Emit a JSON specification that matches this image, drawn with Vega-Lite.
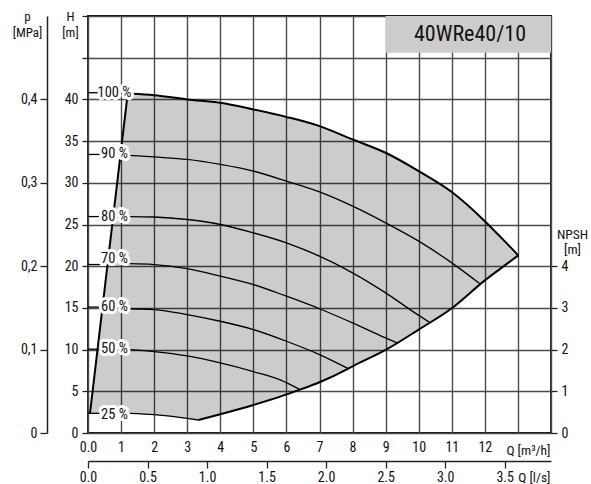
{
  "$schema": "https://vega.github.io/schema/vega-lite/v6.json",
  "width": 463,
  "height": 417,
  "autosize": "none",
  "padding": {"left": 88, "top": 16, "right": 40, "bottom": 51},
  "background": "white",
  "config": {
    "font": "Liberation Sans Narrow, Roboto Condensed, Noto Sans Condensed, Open Sans Condensed, DejaVu Sans Condensed, sans-serif",
    "view": {"stroke": "#111", "strokeWidth": 1.8},
    "axis": {
      "labelFont": "Liberation Sans Narrow, Roboto Condensed, Noto Sans Condensed, Open Sans Condensed, DejaVu Sans Condensed, sans-serif",
      "titleFont": "Liberation Sans Narrow, Roboto Condensed, Noto Sans Condensed, Open Sans Condensed, DejaVu Sans Condensed, sans-serif",
      "labelFontSize": 14,
      "titleFontSize": 13.5,
      "titleFontWeight": "normal",
      "labelColor": "#111",
      "titleColor": "#111",
      "tickColor": "#222",
      "tickWidth": 1.3,
      "domainColor": "#222",
      "domainWidth": 1.5,
      "labelFlush": false,
      "labelOverlap": false,
      "gridColor": "#4a4a4a",
      "gridWidth": 1.4,
      "gridOpacity": 1
    }
  },
  "datasets": {
    "area": [
      {"Q": 0.06, "H": 2.36, "H2": 2.36},
      {"Q": 1.2, "H": 40.7, "H2": 2.36},
      {"Q": 1.27, "H": 40.7, "H2": 2.36},
      {"Q": 2, "H": 40.5, "H2": 2.2},
      {"Q": 3, "H": 40.0, "H2": 1.76},
      {"Q": 3.34, "H": 39.85, "H2": 1.56},
      {"Q": 4, "H": 39.6, "H2": 2.25},
      {"Q": 5, "H": 38.8, "H2": 3.36},
      {"Q": 5.81, "H": 38.05, "H2": 4.36},
      {"Q": 6.41, "H": 37.4, "H2": 5.2},
      {"Q": 7, "H": 36.8, "H2": 6.08},
      {"Q": 7.87, "H": 35.4, "H2": 7.72},
      {"Q": 8, "H": 35.2, "H2": 8.0},
      {"Q": 9, "H": 33.6, "H2": 9.96},
      {"Q": 10, "H": 31.4, "H2": 12.4},
      {"Q": 11, "H": 28.9, "H2": 14.96},
      {"Q": 12, "H": 25.4, "H2": 18.3},
      {"Q": 12.5, "H": 23.4, "H2": 19.8},
      {"Q": 13.01, "H": 21.3, "H2": 21.3}
    ],
    "curves": [
      {"id": "edge", "Q": 0.06, "H": 2.36},
      {"id": "edge", "Q": 1.2, "H": 40.7},
      {"id": "s100", "Q": 1.3, "H": 40.7},
      {"id": "s100", "Q": 2, "H": 40.5},
      {"id": "s100", "Q": 3, "H": 40.0},
      {"id": "s100", "Q": 4, "H": 39.6},
      {"id": "s100", "Q": 5, "H": 38.8},
      {"id": "s100", "Q": 6, "H": 37.9},
      {"id": "s100", "Q": 7, "H": 36.8},
      {"id": "s100", "Q": 8, "H": 35.2},
      {"id": "s100", "Q": 9, "H": 33.6},
      {"id": "s100", "Q": 10, "H": 31.4},
      {"id": "s100", "Q": 11, "H": 28.9},
      {"id": "s100", "Q": 12, "H": 25.4},
      {"id": "s100", "Q": 12.5, "H": 23.4},
      {"id": "s100", "Q": 13.01, "H": 21.3},
      {"id": "bottom", "Q": 3.34, "H": 1.56},
      {"id": "bottom", "Q": 4, "H": 2.25},
      {"id": "bottom", "Q": 5, "H": 3.36},
      {"id": "bottom", "Q": 5.81, "H": 4.36},
      {"id": "bottom", "Q": 6.41, "H": 5.2},
      {"id": "bottom", "Q": 7, "H": 6.08},
      {"id": "bottom", "Q": 7.87, "H": 7.72},
      {"id": "bottom", "Q": 8, "H": 8.0},
      {"id": "bottom", "Q": 9, "H": 9.96},
      {"id": "bottom", "Q": 10, "H": 12.4},
      {"id": "bottom", "Q": 11, "H": 14.96},
      {"id": "bottom", "Q": 12, "H": 18.3},
      {"id": "bottom", "Q": 12.5, "H": 19.8},
      {"id": "bottom", "Q": 13.01, "H": 21.3},
      {"id": "t100", "Q": 0, "H": 40.8},
      {"id": "t100", "Q": 0.3, "H": 40.8},
      {"id": "t90", "Q": 0, "H": 33.4},
      {"id": "t90", "Q": 0.36, "H": 33.4},
      {"id": "s90", "Q": 1.25, "H": 33.3},
      {"id": "s90", "Q": 2, "H": 33.1},
      {"id": "s90", "Q": 3, "H": 32.8},
      {"id": "s90", "Q": 4, "H": 32.2},
      {"id": "s90", "Q": 5, "H": 31.4},
      {"id": "s90", "Q": 6, "H": 30.2},
      {"id": "s90", "Q": 7, "H": 28.9},
      {"id": "s90", "Q": 8, "H": 27.2},
      {"id": "s90", "Q": 9, "H": 25.2},
      {"id": "s90", "Q": 10, "H": 23.0},
      {"id": "s90", "Q": 11, "H": 20.4},
      {"id": "s90", "Q": 11.85, "H": 17.9},
      {"id": "t80", "Q": 0, "H": 25.95},
      {"id": "t80", "Q": 0.36, "H": 25.95},
      {"id": "s80", "Q": 1.25, "H": 25.95},
      {"id": "s80", "Q": 2, "H": 25.9},
      {"id": "s80", "Q": 3, "H": 25.6},
      {"id": "s80", "Q": 4, "H": 25.0},
      {"id": "s80", "Q": 5, "H": 24.0},
      {"id": "s80", "Q": 6, "H": 22.8},
      {"id": "s80", "Q": 7, "H": 21.2},
      {"id": "s80", "Q": 8, "H": 19.2},
      {"id": "s80", "Q": 9, "H": 16.8},
      {"id": "s80", "Q": 10, "H": 14.1},
      {"id": "s80", "Q": 10.34, "H": 13.25},
      {"id": "t70", "Q": 0, "H": 20.2},
      {"id": "t70", "Q": 0.36, "H": 20.2},
      {"id": "s70", "Q": 1.25, "H": 20.3},
      {"id": "s70", "Q": 2, "H": 20.2},
      {"id": "s70", "Q": 3, "H": 19.7},
      {"id": "s70", "Q": 4, "H": 18.8},
      {"id": "s70", "Q": 5, "H": 17.8},
      {"id": "s70", "Q": 6, "H": 16.4},
      {"id": "s70", "Q": 7, "H": 14.9},
      {"id": "s70", "Q": 8, "H": 13.2},
      {"id": "s70", "Q": 9, "H": 11.4},
      {"id": "s70", "Q": 9.38, "H": 10.75},
      {"id": "t60", "Q": 0, "H": 15.1},
      {"id": "t60", "Q": 0.36, "H": 15.1},
      {"id": "s60", "Q": 1.27, "H": 14.9},
      {"id": "s60", "Q": 2, "H": 14.8},
      {"id": "s60", "Q": 3, "H": 14.2},
      {"id": "s60", "Q": 4, "H": 13.4},
      {"id": "s60", "Q": 5, "H": 12.4},
      {"id": "s60", "Q": 6, "H": 11.0},
      {"id": "s60", "Q": 7, "H": 9.4},
      {"id": "s60", "Q": 7.87, "H": 7.72},
      {"id": "t50", "Q": 0, "H": 10.05},
      {"id": "t50", "Q": 0.36, "H": 10.05},
      {"id": "s50", "Q": 1.27, "H": 10.0},
      {"id": "s50", "Q": 2, "H": 9.76},
      {"id": "s50", "Q": 3, "H": 9.24},
      {"id": "s50", "Q": 4, "H": 8.4},
      {"id": "s50", "Q": 5, "H": 7.36},
      {"id": "s50", "Q": 5.81, "H": 6.36},
      {"id": "s50", "Q": 6.41, "H": 5.2},
      {"id": "t25", "Q": 0, "H": 2.36},
      {"id": "t25", "Q": 0.36, "H": 2.36},
      {"id": "s25", "Q": 1.27, "H": 2.36},
      {"id": "s25", "Q": 2, "H": 2.2},
      {"id": "s25", "Q": 3, "H": 1.76},
      {"id": "s25", "Q": 3.34, "H": 1.56}
    ],
    "labels": [
      {"t": "100 %", "Q": 0.8, "H": 40.75},
      {"t": "90 %", "Q": 0.8, "H": 33.4},
      {"t": "80 %", "Q": 0.8, "H": 25.95},
      {"t": "70 %", "Q": 0.8, "H": 20.85},
      {"t": "60 %", "Q": 0.8, "H": 15.15},
      {"t": "50 %", "Q": 0.8, "H": 10.1},
      {"t": "25 %", "Q": 0.8, "H": 2.1}
    ],
    "box": [{"Q": 9, "Q2": 14, "H": 45.6, "H2": 50}],
    "boxtitle": [{"Q": 11.55, "H": 47.8, "t": "40WRe40/10"}]
  },
  "layer": [
    {
      "encoding": {
        "x": {
          "field": "Q", "type": "quantitative",
          "scale": {"domain": [0, 14], "nice": false, "zero": false},
          "axis": {
            "orient": "bottom",
            "values": [0, 1, 2, 3, 4, 5, 6, 7, 8, 9, 10, 11, 12, 13, 14],
            "grid": true, "ticks": false, "tickSize": 0, "domain": false,
            "labelPadding": 7,
            "labelExpr": "datum.value > 12 ? '' : (datum.value == 0 ? '0.0' : datum.label)",
            "title": "Q [m³/h]", "titleX": 462, "titleY": 21,
            "titleAlign": "right", "titleBaseline": "alphabetic"
          }
        },
        "y": {
          "field": "H", "type": "quantitative",
          "scale": {"domain": [0, 50], "nice": false, "zero": false},
          "axis": {
            "orient": "left",
            "values": [0, 5, 10, 15, 20, 25, 30, 35, 40, 45, 50],
            "grid": true, "ticks": true, "tickSize": 6, "domain": false,
            "labelPadding": 4,
            "labelExpr": "datum.value > 40 ? '' : datum.label",
            "title": ["H", "[m]"], "titleAngle": 0, "titleX": -18, "titleY": 4,
            "titleFontSize": 13,
            "titleAlign": "center", "titleBaseline": "alphabetic", "titleLineHeight": 16
          }
        }
      },
      "layer": [
        {
          "data": {"name": "box"},
          "mark": {"type": "rect", "fill": "#cccccc", "stroke": null},
          "encoding": {"x2": {"field": "Q2"}, "y2": {"field": "H2"}}
        },
        {
          "data": {"name": "boxtitle"},
          "mark": {"type": "text", "fontSize": 22, "color": "#111", "align": "center", "baseline": "middle"},
          "encoding": {"text": {"field": "t"}}
        },
        {
          "data": {"name": "area"},
          "mark": {"type": "area", "fill": "#000", "fillOpacity": 0.2, "stroke": null, "interpolate": "linear"},
          "encoding": {"y2": {"field": "H2"}}
        },
        {
          "data": {"name": "curves"},
          "transform": [{"filter": "datum.id == 'edge' || datum.id == 'bottom' || datum.id == 's100'"}],
          "mark": {"type": "line", "color": "#000", "strokeWidth": 2, "interpolate": "monotone"},
          "encoding": {"detail": {"field": "id"}}
        },
        {
          "data": {"name": "curves"},
          "transform": [{"filter": "datum.id != 'edge' && datum.id != 'bottom' && datum.id != 's100'"}],
          "mark": {"type": "line", "color": "#000", "strokeWidth": 1.3, "interpolate": "monotone"},
          "encoding": {"detail": {"field": "id"}}
        },
        {
          "data": {"name": "labels"},
          "mark": {"type": "text", "fontSize": 14.5, "fill": "white", "stroke": "white", "strokeWidth": 6, "strokeJoin": "round", "align": "center", "baseline": "middle"},
          "encoding": {"text": {"field": "t"}}
        },
        {
          "data": {"name": "labels"},
          "mark": {"type": "text", "fontSize": 14.5, "color": "#111", "align": "center", "baseline": "middle"},
          "encoding": {"text": {"field": "t"}}
        }
      ]
    },
    {
      "data": {"values": [{"p": 0}, {"p": 0.5}]},
      "mark": {"type": "point", "opacity": 0},
      "encoding": {
        "y": {
          "field": "p", "type": "quantitative",
          "scale": {"domain": [0, 0.5], "nice": false, "zero": false},
          "axis": {
            "orient": "left", "offset": 41,
            "values": [0, 0.1, 0.2, 0.3, 0.4],
            "grid": false, "domain": true, "ticks": true, "tickSize": 7,
            "labelPadding": 3,
            "labelExpr": "datum.value == 0 ? '0' : replace(format(datum.value, '.1f'), '.', ',')",
            "title": ["p", "[MPa]"], "titleAngle": 0, "titleX": -20, "titleY": 4,
            "titleFontSize": 13,
            "titleAlign": "center", "titleBaseline": "alphabetic", "titleLineHeight": 16
          }
        }
      }
    },
    {
      "data": {"values": [{"n": 0}, {"n": 10}]},
      "mark": {"type": "point", "opacity": 0},
      "encoding": {
        "y": {
          "field": "n", "type": "quantitative",
          "scale": {"domain": [0, 10], "nice": false, "zero": false},
          "axis": {
            "orient": "right",
            "values": [0, 1, 2, 3, 4],
            "grid": false, "domain": false, "ticks": true, "tickSize": 6,
            "labelPadding": 4,
            "title": ["NPSH", "[m]"], "titleAngle": 0, "titleX": 21, "titleY": 222,
            "titleAlign": "center", "titleBaseline": "alphabetic", "titleLineHeight": 15
          }
        }
      }
    },
    {
      "data": {"values": [{"ls": 0}, {"ls": 3.8889}]},
      "mark": {"type": "point", "opacity": 0},
      "encoding": {
        "x": {
          "field": "ls", "type": "quantitative",
          "scale": {"domain": [0, 3.8889], "nice": false, "zero": false},
          "axis": {
            "orient": "bottom", "offset": 28,
            "values": [0, 0.5, 1, 1.5, 2, 2.5, 3, 3.5],
            "format": ".1f",
            "grid": false, "domain": true, "ticks": true, "tickSize": 7,
            "labelPadding": 2,
            "title": "Q [l/s]", "titleX": 462, "titleY": 20,
            "titleAlign": "right", "titleBaseline": "alphabetic"
          }
        }
      }
    }
  ],
  "resolve": {"scale": {"x": "independent", "y": "independent"}}
}
